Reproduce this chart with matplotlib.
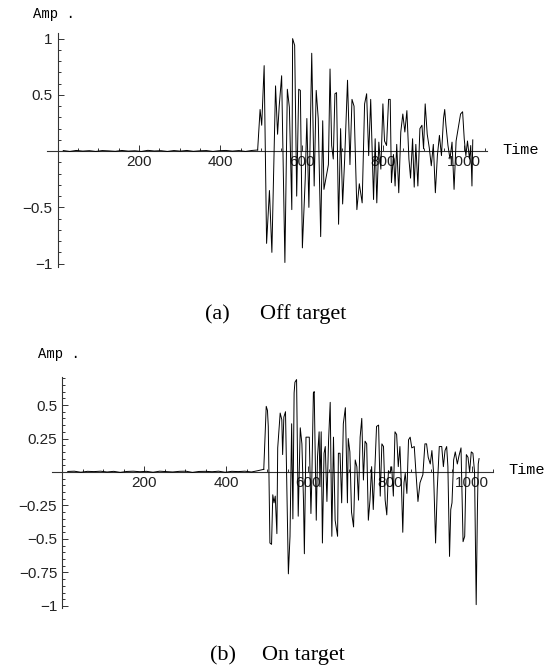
import numpy as np
import matplotlib
matplotlib.use("Agg")
import matplotlib.pyplot as plt
from matplotlib.ticker import FixedLocator, FixedFormatter, MultipleLocator

# pre-burst noise (tiny)
noise_t = [14, 30, 46, 62, 78, 94, 110, 126, 142, 158, 174, 190, 206, 222, 238, 254,
           270, 286, 302, 318, 334, 350, 366, 382, 398, 414, 430, 446, 462, 478, 492]
noise_a = [0.005, -0.003, 0.006, 0.0, 0.004, -0.003, 0.005, 0.002, -0.002, 0.006, 0.0, 0.003,
           -0.003, 0.007, 0.001, 0.004, -0.003, 0.005, 0.0, 0.006, -0.002, 0.003, 0.005, -0.003,
           0.004, 0.006, 0.0, 0.005, -0.003, 0.006, 0.01]
noise_b = [0.004, 0.006, -0.002, 0.005, 0.003, 0.006, 0.0, 0.005, -0.003, 0.004, 0.006, 0.002,
           0.005, -0.002, 0.006, 0.003, 0.0, 0.005, 0.006, -0.003, 0.004, 0.005, 0.002, 0.006,
           -0.002, 0.005, 0.003, 0.006, 0.0, 0.01, 0.02]

# (a) off target: burst vertices
t_a = [498, 502, 508, 514, 521, 527, 536, 541, 545, 551, 559, 565, 570, 576, 578, 583,
       588, 593, 597, 602, 609, 613, 618, 625, 631, 636, 641, 647, 652, 655, 666, 670,
       674, 678, 682, 686, 691, 696, 701, 706, 713, 719, 724, 729, 736, 742, 749, 755,
       760, 765, 770, 777, 781, 785, 790, 795, 800, 804, 809, 814, 818, 821, 826, 830,
       834, 839, 844, 849, 854, 859, 864, 868, 873, 877, 881, 886, 891, 896, 900, 904,
       909, 914, 919, 924, 929, 934, 939, 944, 949, 952, 955, 960, 965, 970, 975, 980,
       991, 996, 1000, 1004, 1008, 1013, 1016, 1019, 1021]
v_a = [0.37, 0.23, 0.76, -0.82, -0.35, -0.90, 0.58, 0.15, 0.40, 0.67, -0.99, 0.55, 0.39, -0.52, 1.0, 0.94,
       -0.40, 0.55, 0.54, -0.86, -0.25, 0.29, -0.50, 0.87, -0.31, 0.54, 0.29, -0.76, 0.27, -0.34, -0.12, 0.73,
       0.05, -0.07, 0.51, 0.52, -0.65, 0.20, -0.47, -0.07, 0.63, -0.12, 0.46, 0.40, -0.52, -0.29, -0.46, 0.42,
       0.51, -0.04, 0.46, -0.43, 0.11, -0.46, 0.08, -0.16, 0.42, 0.09, 0.05, 0.46, 0.46, -0.28, -0.03, -0.31,
       0.06, -0.37, 0.17, 0.33, 0.17, 0.36, -0.07, -0.24, 0.11, -0.32, 0.06, -0.31, 0.20, 0.23, 0.02, 0.42,
       0.15, 0.03, -0.13, 0.06, -0.37, -0.04, 0.14, -0.04, 0.29, 0.37, 0.23, 0.05, -0.07, 0.08, -0.34, 0.09,
       0.33, 0.35, 0.11, -0.04, 0.09, -0.07, 0.05, -0.31, 0.10]

# (b) on target: burst vertices
t_b = [498, 501, 503, 507, 511, 514, 517, 520, 524, 526, 532, 536, 538, 541, 545, 548,
       552, 556, 560, 563, 566, 568, 572, 576, 581, 585, 589, 591, 595, 598, 603, 607,
       609, 613, 615, 620, 623, 627, 629, 632, 635, 639, 642, 646, 650, 654, 658, 662,
       666, 672, 674, 678, 682, 686, 691, 696, 698, 702, 706, 711, 715, 719, 723, 727,
       731, 735, 739, 743, 747, 751, 755, 759, 763, 767, 772, 776, 780, 784, 788, 792,
       796, 800, 804, 808, 812, 816, 820, 824, 828, 831, 834, 837, 841, 845, 849, 853,
       859, 863, 868, 873, 880, 885, 889, 893, 898, 902, 906, 911, 915, 920, 926, 930,
       934, 938, 941, 945, 948, 951, 955, 959, 964, 968, 973, 978, 982, 986, 990, 994,
       998, 1002, 1006, 1010, 1013, 1015, 1017]
v_b = [0.49, 0.46, 0.34, -0.53, -0.54, -0.17, -0.23, -0.18, -0.46, 0.18, 0.44, 0.39, 0.13, 0.41, 0.45, -0.06,
       -0.76, -0.48, 0.36, -0.35, 0.59, 0.67, 0.69, -0.33, 0.33, 0.21, -0.23, -0.61, 0.26, 0.26, 0.26, -0.31,
       -0.08, 0.59, 0.60, -0.36, 0.11, 0.30, -0.11, 0.30, -0.53, 0.14, 0.19, -0.22, 0.23, 0.52, -0.48, 0.26,
       -0.36, -0.48, 0.14, 0.14, -0.23, 0.36, 0.48, -0.23, 0.25, 0.15, -0.30, -0.41, 0.09, 0.04, -0.21, 0.26,
       0.40, -0.06, 0.23, 0.21, -0.36, -0.21, 0.04, -0.28, 0.04, 0.34, 0.35, -0.18, 0.21, 0.19, -0.21, -0.32,
       0.01, -0.01, 0.04, -0.18, 0.30, 0.28, 0.04, 0.19, -0.13, -0.45, -0.08, -0.01, -0.16, 0.24, 0.26, 0.18,
       0.19, 0.0, -0.22, -0.08, -0.02, 0.21, 0.21, 0.11, 0.06, 0.16, 0.0, -0.53, -0.13, 0.19, 0.19, 0.04,
       0.16, 0.19, 0.04, -0.63, -0.28, -0.23, 0.09, 0.15, 0.06, 0.12, 0.18, -0.52, -0.48, 0.13, 0.11, 0.0,
       0.15, 0.14, 0.0, -0.99, -0.28, 0.06, 0.10]

x_major = [200, 400, 600, 800, 1000]
ya_ticks = [-1, -0.5, 0.5, 1]
ya_labels = ["\u22121", "\u22120.5", "0.5", "1"]
yb_ticks = [-1, -0.75, -0.5, -0.25, 0.25, 0.5]
yb_labels = ["\u22121", "\u22120.75", "\u22120.5", "\u22120.25", "0.25", "0.5"]

W, H = 555, 668
fig = plt.figure(figsize=(W / 100, H / 100), dpi=100)


def make_axes(l, r, top, bot, xlim, ylim, yt, yl, yminor):
    ax = fig.add_axes([l / W, 1 - bot / H, (r - l) / W, (bot - top) / H])
    ax.set_xlim(*xlim)
    ax.set_ylim(*ylim)
    for s in ["top", "right"]:
        ax.spines[s].set_visible(False)
    ax.spines["left"].set_position(("data", 0))
    ax.spines["bottom"].set_position(("data", 0))
    for s in ["left", "bottom"]:
        ax.spines[s].set_linewidth(0.8)
        ax.spines[s].set_color("#333333")
    ax.xaxis.set_major_locator(FixedLocator(x_major))
    ax.xaxis.set_major_formatter(FixedFormatter([str(v) for v in x_major]))
    ax.xaxis.set_minor_locator(MultipleLocator(50))
    ax.yaxis.set_major_locator(FixedLocator(yt))
    ax.yaxis.set_major_formatter(FixedFormatter(yl))
    ax.yaxis.set_minor_locator(MultipleLocator(yminor))
    ax.tick_params(which="both", direction="in", color="#333333", width=0.7)
    ax.tick_params(which="major", length=4)
    ax.tick_params(which="minor", length=2.2)
    ax.tick_params(axis="y", pad=3.5)
    ax.tick_params(axis="x", pad=3)
    for lab in ax.get_xticklabels() + ax.get_yticklabels():
        lab.set_fontfamily("Liberation Sans")
        lab.set_fontsize(11)
        lab.set_color("#222222")
    ax.xaxis.set_zorder(0.5)
    ax.patch.set_visible(False)
    return ax


ax1 = make_axes(47, 487, 33, 267, (-26, 1056), (-1.03, 1.05), ya_ticks, ya_labels, 0.1)
ax1.plot(noise_t, noise_a, color="black", lw=0.7, zorder=3)
ax1.plot([noise_t[-1]] + t_a, [noise_a[-1]] + v_a, color="black", lw=0.7, zorder=3)

ax2 = make_axes(52, 493, 377, 608, (-24.4, 1051), (-1.015, 0.709), yb_ticks, yb_labels, 0.05)
ax2.plot(noise_t, noise_b, color="black", lw=0.7, zorder=3)
ax2.plot([noise_t[-1]] + t_b, [noise_b[-1]] + v_b, color="black", lw=0.7, zorder=3)

# axis names and captions, in pixel positions
def ptext(x, y, s, **kw):
    fig.text(x / W, 1 - y / H, s, **kw)

ptext(33, 18, "Amp .", family="Liberation Mono", fontsize=10, va="baseline")
ptext(502, 154, "Time", family="Liberation Mono", fontsize=11, va="baseline")
ptext(205, 319, "(a)", family="Liberation Serif", fontsize=16, va="baseline")
ptext(260, 319, "Off target", family="Liberation Serif", fontsize=16, va="baseline")

ptext(38, 358, "Amp .", family="Liberation Mono", fontsize=10, va="baseline")
ptext(508, 474, "Time", family="Liberation Mono", fontsize=11, va="baseline")
ptext(210, 660, "(b)", family="Liberation Serif", fontsize=16, va="baseline")
ptext(262, 660, "On target", family="Liberation Serif", fontsize=16, va="baseline")

fig.savefig("out.png", dpi=100)
